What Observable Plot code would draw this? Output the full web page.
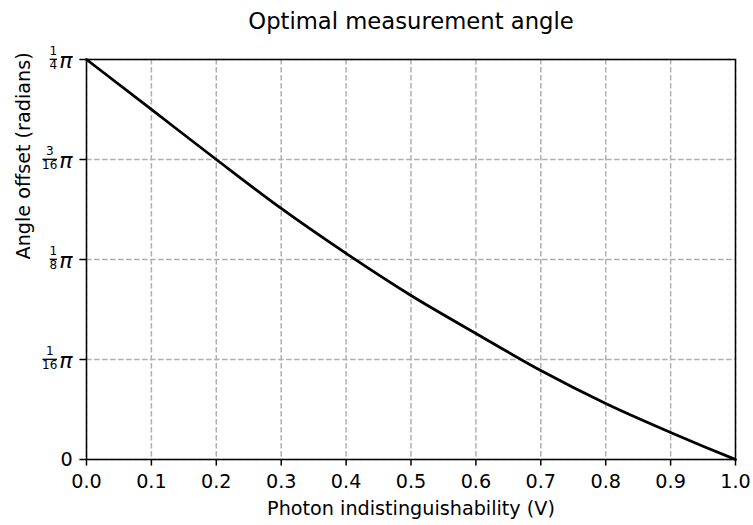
<!DOCTYPE html>
<html>
<head>
<meta charset="utf-8">
<script src="https://cdn.jsdelivr.net/npm/d3@7"></script>
<script src="https://cdn.jsdelivr.net/npm/@observablehq/plot@0.6"></script>
<style>
  html, body { margin: 0; padding: 0; background: white; }
</style>
</head>
<body>
<div id="chart"></div>
<script>
// ---- data (angle values in units of π) ----
const visibility = [0.0, 0.1, 0.2, 0.3, 0.4, 0.5, 0.6, 0.7, 0.8, 0.9, 0.95, 1.0];
const angleOverPi = [0.25, 0.2188, 0.1875, 0.1569, 0.1288, 0.1025, 0.0788, 0.0556, 0.0350, 0.0169, 0.0083, 0.0];

const xTicks = [0.0, 0.1, 0.2, 0.3, 0.4, 0.5, 0.6, 0.7, 0.8, 0.9, 1.0];
const yTickNumerators = [0, 1, 1, 3, 1];
const yTickDenominators = [1, 16, 8, 16, 4];

const titleText = "Optimal measurement angle";
const xLabelText = "Photon indistinguishability (V)";
const yLabelText = "Angle offset (radians)";

const data = visibility.map((v, i) => ({V: v, angle: angleOverPi[i] * Math.PI}));
const yTickValues = yTickNumerators.map((n, i) => n / yTickDenominators[i] * Math.PI);

const FONT = "DejaVu Sans";
const gridStyle = {stroke: "#b0b0b0", strokeWidth: 1.5, strokeDasharray: "5.6,2.4"};

// custom y tick labels (stacked fractions times π)
function yLabelMark(index, scales) {
  const g = d3.create("svg:g").attr("fill", "black").attr("font-family", FONT);
  const axisX = 86;
  yTickNumerators.forEach((num, i) => {
    const den = yTickDenominators[i];
    const y0 = scales.y(yTickValues[i]);
    if (num === 0) {
      g.append("text").attr("x", axisX - 13.2).attr("y", y0).attr("dy", "0.36em")
        .attr("text-anchor", "end").style("font-size", "19.2px").text("0");
      return;
    }
    g.append("text").attr("x", axisX - 13.4).attr("y", y0 + 8.8)
      .attr("text-anchor", "end").style("font-size", "22px").style("font-style", "italic").text("π");
    const right = 57;
    const w = Math.max(String(num).length, String(den).length) * 7.3;
    const cx = right - w / 2;
    g.append("text").attr("x", cx).attr("y", y0 - 4.2).attr("text-anchor", "middle")
      .style("font-size", "12px").text(String(num));
    g.append("text").attr("x", cx).attr("y", y0 + 9.8).attr("text-anchor", "middle")
      .style("font-size", "12px").text(String(den));
    g.append("line").attr("x1", right - w).attr("x2", right).attr("y1", y0 + 0.3).attr("y2", y0 + 0.3)
      .attr("stroke", "black").attr("stroke-width", 1.3);
  });
  return g.node();
}

const chart = Plot.plot({
  width: 753,
  height: 525,
  marginLeft: 86,
  marginRight: 18,
  marginTop: 59,
  marginBottom: 66,
  style: {fontFamily: FONT, fontSize: "19.2px", color: "black", background: "white", overflow: "visible"},
  x: {domain: [0, 1]},
  y: {domain: [0, Math.PI / 4]},
  marks: [
    Plot.ruleX(xTicks, {x: d => d, ...gridStyle}),
    Plot.ruleY(yTickValues, {y: d => d, ...gridStyle}),
    Plot.line(data, {x: "V", y: "angle", stroke: "black", strokeWidth: 2.8, curve: "monotone-x"}),
    Plot.frame({stroke: "black", strokeWidth: 1.5}),
    Plot.axisX({ticks: xTicks, tickFormat: d3.format(".1f"), tickSize: 6.6, tickPadding: 8.4, strokeWidth: 1.5, label: null, fontSize: 19.2}),
    Plot.axisY({ticks: yTickValues, tickFormat: () => "", tickSize: 6.6, strokeWidth: 1.5, label: null}),
    yLabelMark,
    Plot.text([titleText], {frameAnchor: "top", lineAnchor: "bottom", dy: -30.7, fontSize: 22.7}),
    Plot.text([xLabelText], {frameAnchor: "bottom", lineAnchor: "bottom", dy: 55.3, fontSize: 19.2}),
    Plot.text([yLabelText], {frameAnchor: "left", lineAnchor: "bottom", rotate: -90, dx: -57, fontSize: 19.2})
  ]
});

document.getElementById("chart").appendChild(chart);
</script>
</body>
</html>
